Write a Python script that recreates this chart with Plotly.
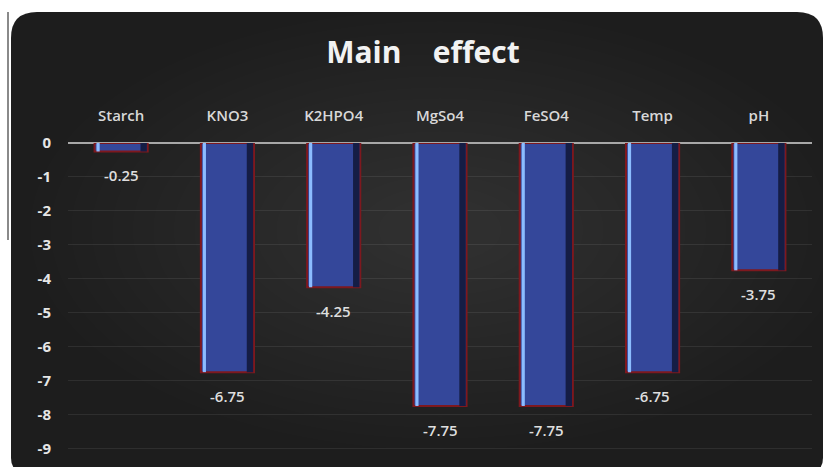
import plotly.graph_objects as go

# Main effect of each factor
factors = ["Starch", "KNO3", "K2HPO4", "MgSo4", "FeSO4", "Temp", "pH"]
effects = [-0.25, -6.75, -4.25, -7.75, -7.75, -6.75, -3.75]
y_ticks = [0, -1, -2, -3, -4, -5, -6, -7, -8, -9]

W, H = 825, 467
ML, MR, MT, MB = 68, 13, 143, 10
PW, PH = W - ML - MR, H - MT - MB


def px(x):
    return (x - ML) / PW


def py(y):
    return 1 - (y - MT) / PH


fig = go.Figure()

# base bars with dark red rim
fig.add_trace(go.Bar(
    x=factors, y=effects, width=0.5,
    marker=dict(color="#34479a", line=dict(color="#7e181e", width=2)),
    hoverinfo="skip", showlegend=False,
))
# bevel: light left edge
fig.add_trace(go.Bar(
    x=factors, y=effects, width=0.03, offset=-0.232,
    marker=dict(color="#8cbcff", line=dict(width=0)),
    hoverinfo="skip", showlegend=False,
))
# bevel: dark right edge
fig.add_trace(go.Bar(
    x=factors, y=effects, width=0.06, offset=0.182,
    marker=dict(color="#151d45", line=dict(width=0)),
    hoverinfo="skip", showlegend=False,
))

# value labels below each bar
for f, v in zip(factors, effects):
    fig.add_annotation(
        x=f, y=v, text=f"{v:.2f}", showarrow=False,
        yanchor="top", yshift=-12,
        font=dict(family="Open Sans", size=15, color="#dedede", weight=600),
    )


def rounded_rect(x0, y0, x1, y1, rt, rb):
    return (
        f"M {px(x0)},{py(y0 + rt)} "
        f"Q {px(x0)},{py(y0)} {px(x0 + rt)},{py(y0)} "
        f"L {px(x1 - rt)},{py(y0)} "
        f"Q {px(x1)},{py(y0)} {px(x1)},{py(y0 + rt)} "
        f"L {px(x1)},{py(y1 - rb)} "
        f"Q {px(x1)},{py(y1)} {px(x1 - rb)},{py(y1)} "
        f"L {px(x0 + rb)},{py(y1)} "
        f"Q {px(x0)},{py(y1)} {px(x0)},{py(y1 - rb)} Z"
    )


# dark rounded panel behind the chart, lighter towards its middle
shapes = [
    dict(type="path", xref="paper", yref="paper",
         path=rounded_rect(11, 12, 823, 472, 26, 14),
         fillcolor="#1d1d1d", line=dict(width=0), layer="below"),
]
cx, cy = 440, 230
steps = 18
for i in range(steps):
    k = 1 - i / (steps + 2)
    rx, ry = 410 * k, 220 * k
    shapes.append(dict(
        type="circle", xref="paper", yref="paper",
        x0=px(cx - rx), x1=px(cx + rx), y0=py(cy + ry), y1=py(cy - ry),
        fillcolor="rgba(255,255,255,0.009)", line=dict(width=0), layer="below",
    ))
shapes.append(dict(type="line", xref="paper", yref="paper",
                   x0=px(8), x1=px(8), y0=py(12), y1=py(240),
                   line=dict(color="#8a8a8a", width=2), layer="below"))

fig.update_layout(
    width=W, height=H,
    margin=dict(l=ML, r=MR, t=MT, b=MB),
    paper_bgcolor="white", plot_bgcolor="rgba(0,0,0,0)",
    barmode="overlay",
    shapes=shapes,
    title=dict(
        text="<b>Main&nbsp;&nbsp;&nbsp;&nbsp;effect</b>",
        x=px(423), xref="paper", xanchor="center",
        y=1 - 52 / H, yanchor="middle",
        font=dict(family="Open Sans", size=30, color="#f2f2f2"),
    ),
    xaxis=dict(
        side="top", showgrid=False, zeroline=False, showline=False,
        ticks="", ticklabelstandoff=18,
        tickfont=dict(family="Open Sans", size=15, color="#d8d8d8", weight=600),
    ),
    yaxis=dict(
        range=[-9.25, 0], tickvals=y_ticks,
        ticktext=[str(t) for t in y_ticks],
        showgrid=True, gridcolor="rgba(255,255,255,0.08)", gridwidth=1,
        zeroline=True, zerolinecolor="#a8a8a8", zerolinewidth=1.5,
        showline=False, ticks="", ticklabelstandoff=16,
        tickfont=dict(family="Open Sans", size=15, color="#e6e6e6", weight="bold"),
    ),
)

fig.write_html("out.html")
